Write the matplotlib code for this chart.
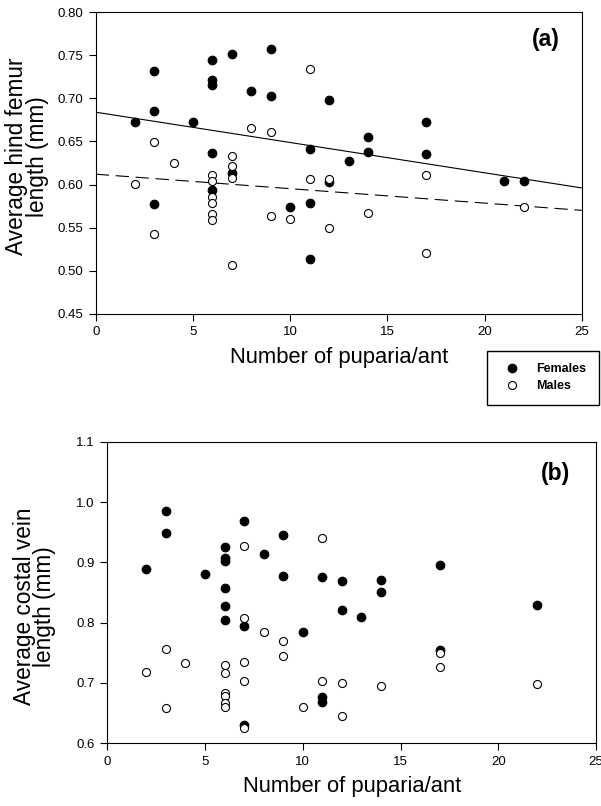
import matplotlib
matplotlib.use('Agg')
import matplotlib.pyplot as plt
import numpy as np

plt.rcParams['font.family'] = ['Liberation Sans', 'DejaVu Sans']

# Panel (a): hind femur length vs puparia per ant
fem_a_x = [2, 3, 3, 3, 5, 6, 6, 6, 6, 6, 7, 7, 8, 9, 9, 10, 11, 11, 11,
           12, 12, 13, 14, 14, 17, 17, 21, 22]
fem_a_y = [0.673, 0.732, 0.685, 0.577, 0.673, 0.745, 0.721, 0.715, 0.637,
           0.594, 0.751, 0.613, 0.709, 0.757, 0.703, 0.574, 0.641, 0.579,
           0.513, 0.698, 0.603, 0.627, 0.655, 0.638, 0.673, 0.636, 0.604,
           0.604]
mal_a_x = [2, 3, 3, 4, 6, 6, 6, 6, 6, 6, 7, 7, 7, 7, 8, 9, 9, 10, 11, 11,
           12, 12, 14, 17, 17, 22]
mal_a_y = [0.601, 0.649, 0.542, 0.625, 0.611, 0.604, 0.585, 0.578, 0.566,
           0.559, 0.633, 0.622, 0.608, 0.506, 0.666, 0.661, 0.564, 0.560,
           0.734, 0.606, 0.607, 0.549, 0.567, 0.611, 0.521, 0.574]
# fitted lines (intercept, slope)
fem_fit = (0.684, -0.00352)
mal_fit = (0.612, -0.00168)

# Panel (b): costal vein length vs puparia per ant
fem_b_x = [2, 3, 3, 5, 6, 6, 6, 6, 6, 6, 7, 7, 7, 8, 9, 9, 10, 11, 11, 11,
           12, 12, 13, 14, 14, 17, 17, 22]
fem_b_y = [0.889, 0.985, 0.949, 0.881, 0.926, 0.908, 0.902, 0.858, 0.827,
           0.805, 0.968, 0.795, 0.630, 0.914, 0.945, 0.878, 0.785, 0.875,
           0.676, 0.669, 0.869, 0.821, 0.809, 0.871, 0.851, 0.895, 0.755,
           0.829]
mal_b_x = [2, 3, 3, 4, 6, 6, 6, 6, 6, 6, 7, 7, 7, 7, 7, 8, 9, 9, 10, 11,
           11, 12, 12, 14, 17, 17, 22]
mal_b_y = [0.719, 0.757, 0.659, 0.733, 0.730, 0.716, 0.684, 0.679, 0.666,
           0.660, 0.927, 0.807, 0.734, 0.704, 0.626, 0.784, 0.770, 0.745,
           0.661, 0.940, 0.704, 0.700, 0.646, 0.695, 0.750, 0.726, 0.698]

W, H = 601, 806
fig = plt.figure(figsize=(W / 100, H / 100), dpi=100)
ax_a = fig.add_axes([95.7 / W, 1 - 313.7 / H, 486.3 / W, 301.4 / H])
ax_b = fig.add_axes([107.3 / W, 1 - 743.3 / H, 488.7 / W, 301.6 / H])

fill_kw = dict(ls='none', marker='o', ms=6.2, mfc='black', mec='black', mew=0.8)
open_kw = dict(ls='none', marker='o', ms=5.8, mfc='white', mec='black', mew=0.8)

h_f, = ax_a.plot(fem_a_x, fem_a_y, label='Females', zorder=3, **fill_kw)
h_m, = ax_a.plot(mal_a_x, mal_a_y, label='Males', zorder=3, **open_kw)
xx = np.array([0, 25])
ax_a.plot(xx, fem_fit[0] + fem_fit[1] * xx, color='black', lw=0.8, zorder=2)
ax_a.plot(xx, mal_fit[0] + mal_fit[1] * xx, color='black', lw=0.8,
          dashes=(12, 6), zorder=2)

ax_b.plot(fem_b_x, fem_b_y, zorder=3, **fill_kw)
ax_b.plot(mal_b_x, mal_b_y, zorder=3, **open_kw)

ax_a.set_xlim(0, 25)
ax_a.set_ylim(0.45, 0.80)
ax_a.set_yticks(np.arange(0.45, 0.801, 0.05))
ax_a.set_yticklabels(['%.2f' % v for v in np.arange(0.45, 0.801, 0.05)])
ax_b.set_xlim(0, 25)
ax_b.set_ylim(0.6, 1.1)
ax_b.set_yticks(np.arange(0.6, 1.101, 0.1))
ax_b.set_yticklabels(['%.1f' % v for v in np.arange(0.6, 1.101, 0.1)])

for ax in (ax_a, ax_b):
    ax.set_xticks(range(0, 26, 5))
    ax.tick_params(direction='out', length=5, width=0.8, labelsize=9.5, pad=4)
    for sp in ax.spines.values():
        sp.set_linewidth(0.8)
    ax.set_xlabel('Number of puparia/ant', fontsize=15.8, labelpad=6)

ax_a.set_ylabel('Average hind femur\nlength (mm)', fontsize=16.3,
                linespacing=0.85)
ax_a.yaxis.set_label_coords(-0.097, 0.522)
ax_b.set_ylabel('Average costal vein\nlength (mm)', fontsize=16.3,
                linespacing=0.85)
ax_b.yaxis.set_label_coords(-0.105, 0.454)

ax_a.text(0.955, 0.911, '(a)', transform=ax_a.transAxes, fontsize=16.5,
          fontweight='bold', ha='right', va='center')
ax_b.text(0.947, 0.896, '(b)', transform=ax_b.transAxes, fontsize=16.5,
          fontweight='bold', ha='right', va='center')

fig.legend(handles=[h_f, h_m], loc='upper left',
           bbox_to_anchor=(487.3 / W, 1 - 350.7 / H), borderaxespad=0,
           prop={'size': 9, 'weight': 'bold'}, fancybox=False,
           edgecolor='black', framealpha=1, borderpad=1.0,
           handletextpad=0.9, labelspacing=0.4, handlelength=2.0)

fig.savefig('out.png', dpi=100)
